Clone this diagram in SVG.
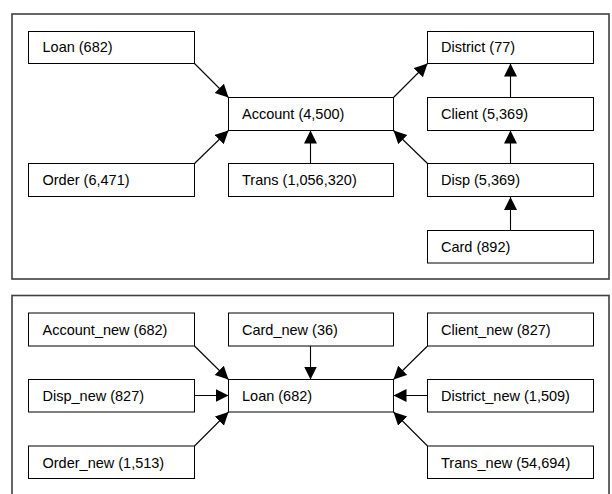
<svg xmlns="http://www.w3.org/2000/svg" width="612" height="494" viewBox="0 0 612 494">
<style>
.frame{fill:none;stroke:#404040;stroke-width:1.6}
.box{fill:#fff;stroke:#000;stroke-width:1}
.lbl{font-family:"Liberation Sans",Arial,sans-serif;font-size:14.5px;fill:#000}
.edge{stroke:#000;stroke-width:1.1;fill:none;marker-end:url(#arr)}
</style>
<defs>
<marker id="arr" markerUnits="userSpaceOnUse" markerWidth="14" markerHeight="14" refX="13" refY="6.5" orient="auto">
<path d="M0,0 L13,6.5 L0,13 z" fill="#000"/>
</marker>
</defs>
<rect class="frame" x="12" y="14" width="597" height="265"/>
<rect class="frame" x="12" y="295.5" width="597" height="210"/>
<g id="connectors">
<line class="edge" x1="194.5" y1="63.5" x2="228.5" y2="97.5"/>
<line class="edge" x1="194.5" y1="163.5" x2="228.5" y2="130.5"/>
<line class="edge" x1="310.5" y1="163.5" x2="310.5" y2="130.5"/>
<line class="edge" x1="393.5" y1="97.5" x2="427.5" y2="63.5"/>
<line class="edge" x1="427.5" y1="163.5" x2="393.5" y2="130.5"/>
<line class="edge" x1="510.5" y1="97.5" x2="510.5" y2="63.5"/>
<line class="edge" x1="510.5" y1="163.5" x2="510.5" y2="130.5"/>
<line class="edge" x1="510.5" y1="230.5" x2="510.5" y2="197"/>
<line class="edge" x1="194.5" y1="346" x2="228.5" y2="379.5"/>
<line class="edge" x1="194.5" y1="395.5" x2="228.5" y2="395.5"/>
<line class="edge" x1="194.5" y1="446" x2="228.5" y2="412"/>
<line class="edge" x1="310.5" y1="346" x2="310.5" y2="379.5"/>
<line class="edge" x1="427.5" y1="346" x2="393.5" y2="379.5"/>
<line class="edge" x1="427.5" y1="395.5" x2="393.5" y2="395.5"/>
<line class="edge" x1="427.5" y1="446" x2="393.5" y2="412"/>
</g>
<g id="loan"><rect class="box" x="28.5" y="31.5" width="166" height="32"/><text class="lbl" x="42.5" y="52">Loan (682)</text></g>
<g id="account"><rect class="box" x="228.5" y="97.5" width="165" height="33"/><text class="lbl" x="242" y="119">Account (4,500)</text></g>
<g id="order"><rect class="box" x="28.5" y="163.5" width="166" height="33"/><text class="lbl" x="42.5" y="185">Order (6,471)</text></g>
<g id="trans"><rect class="box" x="228.5" y="163.5" width="165" height="33"/><text class="lbl" x="242" y="185">Trans (1,056,320)</text></g>
<g id="district"><rect class="box" x="427.5" y="31.5" width="166" height="32"/><text class="lbl" x="441" y="52">District (77)</text></g>
<g id="client"><rect class="box" x="427.5" y="97.5" width="166" height="33"/><text class="lbl" x="441" y="119">Client (5,369)</text></g>
<g id="disp"><rect class="box" x="427.5" y="163.5" width="166" height="33"/><text class="lbl" x="441" y="185">Disp (5,369)</text></g>
<g id="card"><rect class="box" x="427.5" y="230.5" width="166" height="32.5"/><text class="lbl" x="441" y="252">Card (892)</text></g>
<g id="account_new"><rect class="box" x="28.5" y="313" width="166" height="33"/><text class="lbl" x="42.5" y="334.5">Account_new (682)</text></g>
<g id="card_new"><rect class="box" x="228.5" y="313" width="165" height="33"/><text class="lbl" x="242" y="334.5">Card_new (36)</text></g>
<g id="client_new"><rect class="box" x="427.5" y="313" width="166" height="33"/><text class="lbl" x="441" y="334.5">Client_new (827)</text></g>
<g id="disp_new"><rect class="box" x="28.5" y="379.5" width="166" height="32.5"/><text class="lbl" x="42.5" y="401">Disp_new (827)</text></g>
<g id="loan_new"><rect class="box" x="228.5" y="379.5" width="165" height="32.5"/><text class="lbl" x="242" y="401">Loan (682)</text></g>
<g id="district_new"><rect class="box" x="427.5" y="379.5" width="166" height="32.5"/><text class="lbl" x="441" y="401">District_new (1,509)</text></g>
<g id="order_new"><rect class="box" x="28.5" y="446" width="166" height="32.5"/><text class="lbl" x="42.5" y="467.5">Order_new (1,513)</text></g>
<g id="trans_new"><rect class="box" x="427.5" y="446" width="166" height="32.5"/><text class="lbl" x="441" y="467.5">Trans_new (54,694)</text></g>
</svg>
